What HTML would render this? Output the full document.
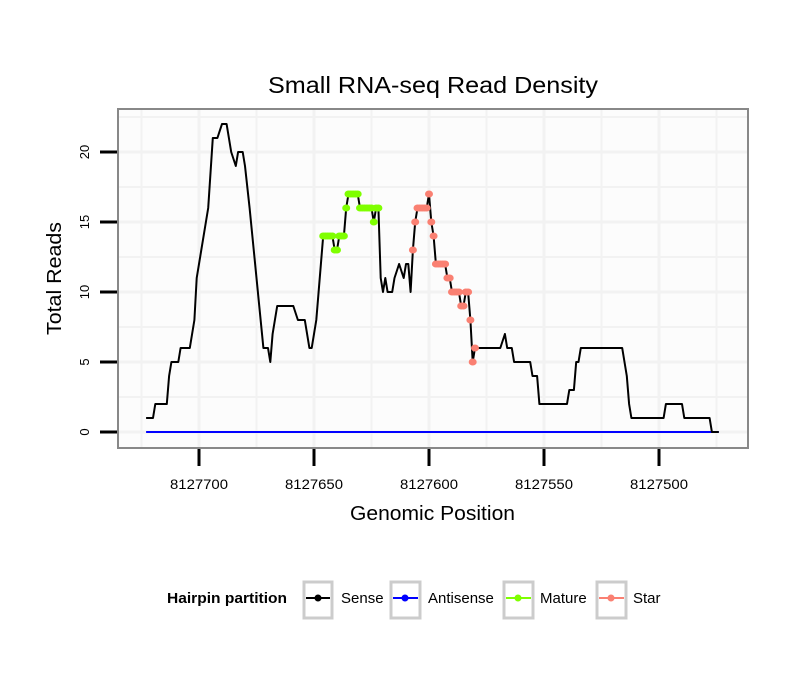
<!DOCTYPE html>
<html><head><meta charset="utf-8"><style>
body{margin:0;background:#fff;}
svg text{font-family:"Liberation Sans",sans-serif;}
</style></head><body>
<svg id="chart" width="810" height="690" xmlns="http://www.w3.org/2000/svg">
<rect width="810" height="690" fill="#fff"/>
<rect x="118" y="109" width="630" height="339" fill="#fcfcfc"/>
<g id="grid"></g>
<g id="series"></g>
<rect x="118" y="109" width="630" height="339" fill="none" stroke="#888" stroke-width="2"/>
<g id="axes"></g>
<text x="268" y="93" font-size="23" textLength="330" lengthAdjust="spacingAndGlyphs">Small RNA-seq Read Density</text>
<text x="350" y="520" font-size="20" textLength="165" lengthAdjust="spacingAndGlyphs">Genomic Position</text>
<text transform="translate(61,335) rotate(-90)" font-size="20" textLength="113" lengthAdjust="spacingAndGlyphs">Total Reads</text>
<g>
<text x="167" y="603" font-size="15" font-weight="bold" textLength="120" lengthAdjust="spacingAndGlyphs">Hairpin partition</text>
<g><rect x="304" y="582" width="28" height="36" fill="#fff" stroke="#ccc" stroke-width="3"/><line x1="306" y1="598" x2="330" y2="598" stroke="#000" stroke-width="2"/><circle cx="318" cy="598" r="3.5" fill="#000"/><text x="341" y="603" font-size="15">Sense</text></g>
<g><rect x="391" y="582" width="29" height="36" fill="#fff" stroke="#ccc" stroke-width="3"/><line x1="393" y1="598" x2="418" y2="598" stroke="#0000ff" stroke-width="2"/><circle cx="405" cy="598" r="3.5" fill="#0000ff"/><text x="428" y="603" font-size="15">Antisense</text></g>
<g><rect x="504" y="582" width="29" height="36" fill="#fff" stroke="#ccc" stroke-width="3"/><line x1="506" y1="598" x2="531" y2="598" stroke="#7fff00" stroke-width="2"/><circle cx="518" cy="598" r="3.5" fill="#7fff00"/><text x="540" y="603" font-size="15">Mature</text></g>
<g><rect x="597" y="582" width="29" height="36" fill="#fff" stroke="#ccc" stroke-width="3"/><line x1="599" y1="598" x2="624" y2="598" stroke="#fa8072" stroke-width="2"/><circle cx="611" cy="598" r="3.5" fill="#fa8072"/><text x="633" y="603" font-size="15">Star</text></g>
</g>
</svg>
<script>
const senseOffsets=[723,720,719,714,713,712,709,708,704,702,701,697,696,694,692,690,688,687,686,684,683,681,680,678,672,670,669,668,666,659,657,654,652,651,650,649,648,647,
646,645,644,643,642,641,640,639,638,637,636,635,634,633,632,631,630,629,628,627,626,625,624,623,622,
621,620,619,618,616,615,613,611,610,609,608,
607,606,605,604,603,602,601,600,599,598,597,596,595,594,593,592,591,590,589,588,587,586,585,584,583,582,581,580,
569,567,566,564,563,556,555,553,552,540,539,537,536,535,534,516,515,514,513,512,498,497,490,489,478,477,474];
const senseValues=[1,1,2,2,4,5,5,6,6,8,11,15,16,21,21,22,22,21,20,19,20,20,19,16,6,6,5,7,9,9,8,8,6,6,7,8,10,12,
14,14,14,14,14,13,13,14,14,14,16,17,17,17,17,17,16,16,16,16,16,16,15,16,16,
11,10,11,10,10,11,12,11,12,12,10,
13,15,16,16,16,16,16,17,15,14,12,12,12,12,12,11,11,10,10,10,10,9,9,10,10,8,5,6,
6,7,6,6,5,5,4,4,2,2,3,3,5,5,6,6,5,4,2,1,1,2,2,1,1,0,0];
const matureRange=[8127646,8127622];
const starRange=[8127607,8127580];
const antisensePositions=[8127723,8127474];
const antisenseValues=[0,0];
const xTicks=[8127700,8127650,8127600,8127550,8127500];
const yTicks=[0,5,10,15,20];
const base=8127000;
const senseX=senseOffsets.map(o=>base+o);

const xs=p=>199+(8127700-p)*2.3;
const ys=v=>432-v*14;
const NS="http://www.w3.org/2000/svg";
function mk(tag,attrs,parent){const e=document.createElementNS(NS,tag);for(const k in attrs)e.setAttribute(k,attrs[k]);parent.appendChild(e);return e;}
const grid=document.getElementById('grid'),ser=document.getElementById('series'),axes=document.getElementById('axes');
for(let v=-2.5;v<=22.5;v+=2.5){const y=ys(v);if(y<110||y>447)continue;
 const l=mk('line',{x1:118,x2:748,y1:y,y2:y,stroke:'#f2f2f2','stroke-width':(v%5===0)?3:2},grid);
 
 }
for(let p=8127750;p>=8127450;p-=25){const x=xs(p);if(x<119||x>747)continue;
 const l=mk('line',{x1:x,x2:x,y1:109,y2:448,stroke:'#f2f2f2','stroke-width':(p%50===0)?3:2},grid);
 
 }
yTicks.forEach(v=>{const y=ys(v);
 const t=mk('line',{x1:100,x2:117,y1:y,y2:y,stroke:'#000','stroke-width':3},axes);
 
 
 const tx=mk('text',{transform:`translate(89,${y}) rotate(-90)`,'font-size':13,'text-anchor':'middle'},axes);tx.textContent=v;
 
 });
xTicks.forEach(p=>{const x=xs(p);
 const t=mk('line',{x1:x,x2:x,y1:449,y2:466,stroke:'#000','stroke-width':3},axes);
 
 
 const tx=mk('text',{x:x-29,y:489,'font-size':14,textLength:58,lengthAdjust:'spacingAndGlyphs'},axes);tx.textContent=p;
 
 });
const al=mk('line',{x1:xs(antisensePositions[0]),x2:xs(antisensePositions[1]),y1:ys(antisenseValues[0]),y2:ys(antisenseValues[1]),stroke:'#0000ff','stroke-width':2},ser);


const pts=senseX.map((p,i)=>xs(p)+','+ys(senseValues[i])).join(' ');
const sl=mk('polyline',{points:pts,fill:'none',stroke:'#000','stroke-width':2,'stroke-linejoin':'round'},ser);


senseX.forEach((p,i)=>{let col=null,nm=null;
 if(p<=matureRange[0]&&p>=matureRange[1]){col='#7fff00';nm='mature-point';}
 else if(p<=starRange[0]&&p>=starRange[1]){col='#fa8072';nm='star-point';}
 if(!col)return;
 const c=mk('ellipse',{cx:xs(p),cy:ys(senseValues[i]),rx:4,ry:3.5,fill:col},ser);
 
 });
</script>
</body></html>
